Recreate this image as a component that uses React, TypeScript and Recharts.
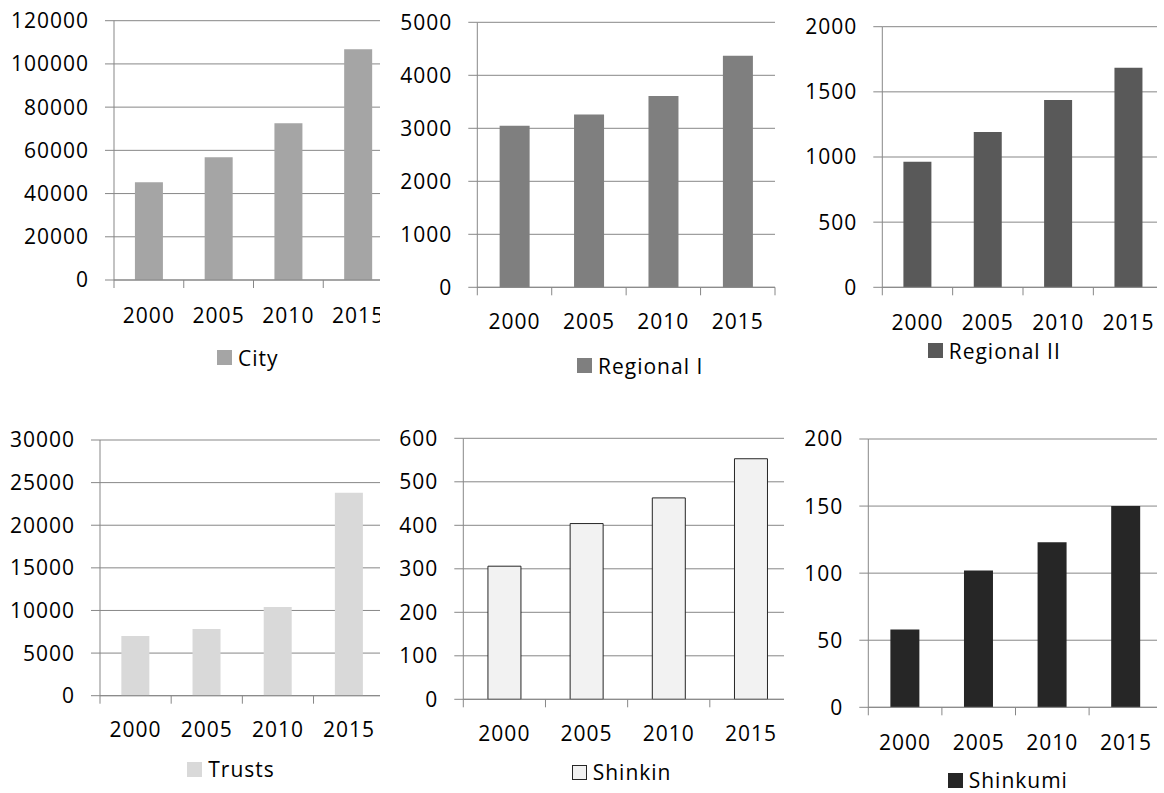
import React from 'react';
import { BarChart, Bar, XAxis, YAxis, CartesianGrid, Legend } from 'recharts';

const years = ['2000', '2005', '2010', '2015'];

const cityValues = [45200, 56800, 72500, 106800];
const regional1Values = [3050, 3260, 3610, 4370];
const regional2Values = [964, 1192, 1437, 1685];
const trustsValues = [7000, 7830, 10400, 23800];
const shinkinValues = [306, 404, 463, 553];
const shinkumiValues = [58, 102, 123, 150];

const cityTicks = [0, 20000, 40000, 60000, 80000, 100000, 120000];
const regional1Ticks = [0, 1000, 2000, 3000, 4000, 5000];
const regional2Ticks = [0, 500, 1000, 1500, 2000];
const trustsTicks = [0, 5000, 10000, 15000, 20000, 25000, 30000];
const shinkinTicks = [0, 100, 200, 300, 400, 500, 600];
const shinkumiTicks = [0, 50, 100, 150, 200];

const seriesNames = ['City', 'Regional I', 'Regional II', 'Trusts', 'Shinkin', 'Shinkumi'];

const GRID = '#878787';
const FONT = "'Open Sans', sans-serif";
const FS = 21;
const LS = 1;
const LEG_H = 22;

type Layout = {
  left: number; top: number; visW: number; h: number;
  axisX: number; plotTop: number; zeroY: number; plotRight: number;
  labelDy: number; legendX: number; legendCY: number;
  fill: string; stroke?: string;
};

const layouts: Layout[] = [
  { left: 0, top: 0, visW: 380, h: 400, axisX: 114, plotTop: 20.7, zeroY: 280, plotRight: 393, labelDy: 35.5, legendX: 217, legendCY: 357.5, fill: '#a5a5a5' },
  { left: 380, top: 0, visW: 396, h: 400, axisX: 477.3, plotTop: 22.3, zeroY: 287.3, plotRight: 775, labelDy: 34.2, legendX: 577, legendCY: 365.5, fill: '#7f7f7f' },
  { left: 776, top: 0, visW: 381, h: 400, axisX: 882.3, plotTop: 26.7, zeroY: 287.3, plotRight: 1163.7, labelDy: 35.2, legendX: 927.7, legendCY: 350.5, fill: '#595959' },
  { left: 0, top: 400, visW: 380, h: 393, axisX: 100, plotTop: 440, zeroY: 695.7, plotRight: 384.7, labelDy: 34.3, legendX: 187.3, legendCY: 769, fill: '#d9d9d9' },
  { left: 380, top: 400, visW: 404, h: 393, axisX: 463.3, plotTop: 438.3, zeroY: 699.3, plotRight: 792, labelDy: 34, legendX: 571.7, legendCY: 772, fill: '#f2f2f2', stroke: '#262626' },
  { left: 784, top: 400, visW: 373, h: 393, axisX: 868.3, plotTop: 439, zeroY: 707.3, plotRight: 1162.7, labelDy: 35.2, legendX: 947.7, legendCY: 780, fill: '#262626' },
];

const valueSets = [cityValues, regional1Values, regional2Values, trustsValues, shinkinValues, shinkumiValues];
const tickSets = [cityTicks, regional1Ticks, regional2Ticks, trustsTicks, shinkinTicks, shinkumiTicks];

const XTick = (props: any) => {
  const { x, y, payload, index, half, labelDy, count } = props;
  return (
    <g>
      <line x1={x - half} y1={y} x2={x - half} y2={y + 8} stroke={GRID} strokeWidth={1} />
      {index === count - 1 && (
        <line x1={x + half} y1={y} x2={x + half} y2={y + 8} stroke={GRID} strokeWidth={1} />
      )}
      <text
        x={x}
        y={y + labelDy + 0.357 * FS}
        textAnchor="middle"
        fill="#000"
        fontFamily={FONT}
        fontSize={FS}
        style={{ letterSpacing: LS }}
      >
        {payload.value}
      </text>
    </g>
  );
};

const LegendItem = ({ name, fill, stroke }: { name: string; fill: string; stroke?: string }) => (
  <div style={{ display: 'flex', alignItems: 'center', height: LEG_H, whiteSpace: 'nowrap' }}>
    <div
      style={{
        width: stroke ? 13 : 15,
        height: stroke ? 13 : 15,
        background: fill,
        border: stroke ? `1px solid ${stroke}` : 'none',
        marginRight: 6,
      }}
    />
    <span style={{ fontFamily: FONT, fontSize: FS, letterSpacing: LS, color: '#000', lineHeight: `${LEG_H}px` }}>{name}</span>
  </div>
);

const SmallChart = ({ idx }: { idx: number }) => {
  const L = layouts[idx];
  const values = valueSets[idx];
  const ticks = tickSets[idx];
  const data = years.map((y, i) => ({ year: y, value: values[i] }));
  const chartW = Math.ceil(L.plotRight - L.left + 1);
  const xAxisH = 40;
  const margin = {
    top: L.plotTop - L.top,
    right: chartW - (L.plotRight - L.left),
    bottom: L.top + L.h - L.zeroY - xAxisH,
    left: 0,
  };
  const half = (L.plotRight - L.axisX) / years.length / 2;
  return (
    <div style={{ position: 'absolute', left: L.left, top: L.top, width: L.visW, height: L.h, overflow: 'hidden' }}>
      <BarChart width={chartW} height={L.h} data={data} margin={margin} barCategoryGap="30%">
        <CartesianGrid vertical={false} stroke={GRID} strokeWidth={1} />
        <XAxis
          dataKey="year"
          height={xAxisH}
          interval={0}
          tickLine={false}
          tickSize={0}
          tickMargin={0}
          axisLine={{ stroke: GRID, strokeWidth: 1 }}
          tick={<XTick half={half} labelDy={L.labelDy} count={years.length} />}
        />
        <YAxis
          width={L.axisX - L.left}
          domain={[0, ticks[ticks.length - 1]]}
          ticks={ticks}
          interval={0}
          tickSize={9}
          tickMargin={16}
          axisLine={{ stroke: GRID, strokeWidth: 1 }}
          tickLine={{ stroke: GRID, strokeWidth: 1 }}
          tick={{ fill: '#000', fontSize: FS, fontFamily: FONT, style: { letterSpacing: LS } } as any}
        />
        <Legend
          layout="horizontal"
          verticalAlign="middle"
          align="center"
          wrapperStyle={{ top: L.legendCY - LEG_H / 2 - L.top, left: L.legendX - L.left, width: 'auto', height: LEG_H }}
          content={() => <LegendItem name={seriesNames[idx]} fill={L.fill} stroke={L.stroke} />}
        />
        <Bar
          dataKey="value"
          name={seriesNames[idx]}
          fill={L.fill}
          stroke={L.stroke}
          strokeWidth={L.stroke ? 1 : 0}
          isAnimationActive={false}
        />
      </BarChart>
    </div>
  );
};

export default function App() {
  return (
    <div style={{ position: 'absolute', left: 0, top: 0, width: 1164, height: 793, background: '#fff', overflow: 'hidden' }}>
      {layouts.map((_, i) => (
        <SmallChart key={i} idx={i} />
      ))}
    </div>
  );
}
